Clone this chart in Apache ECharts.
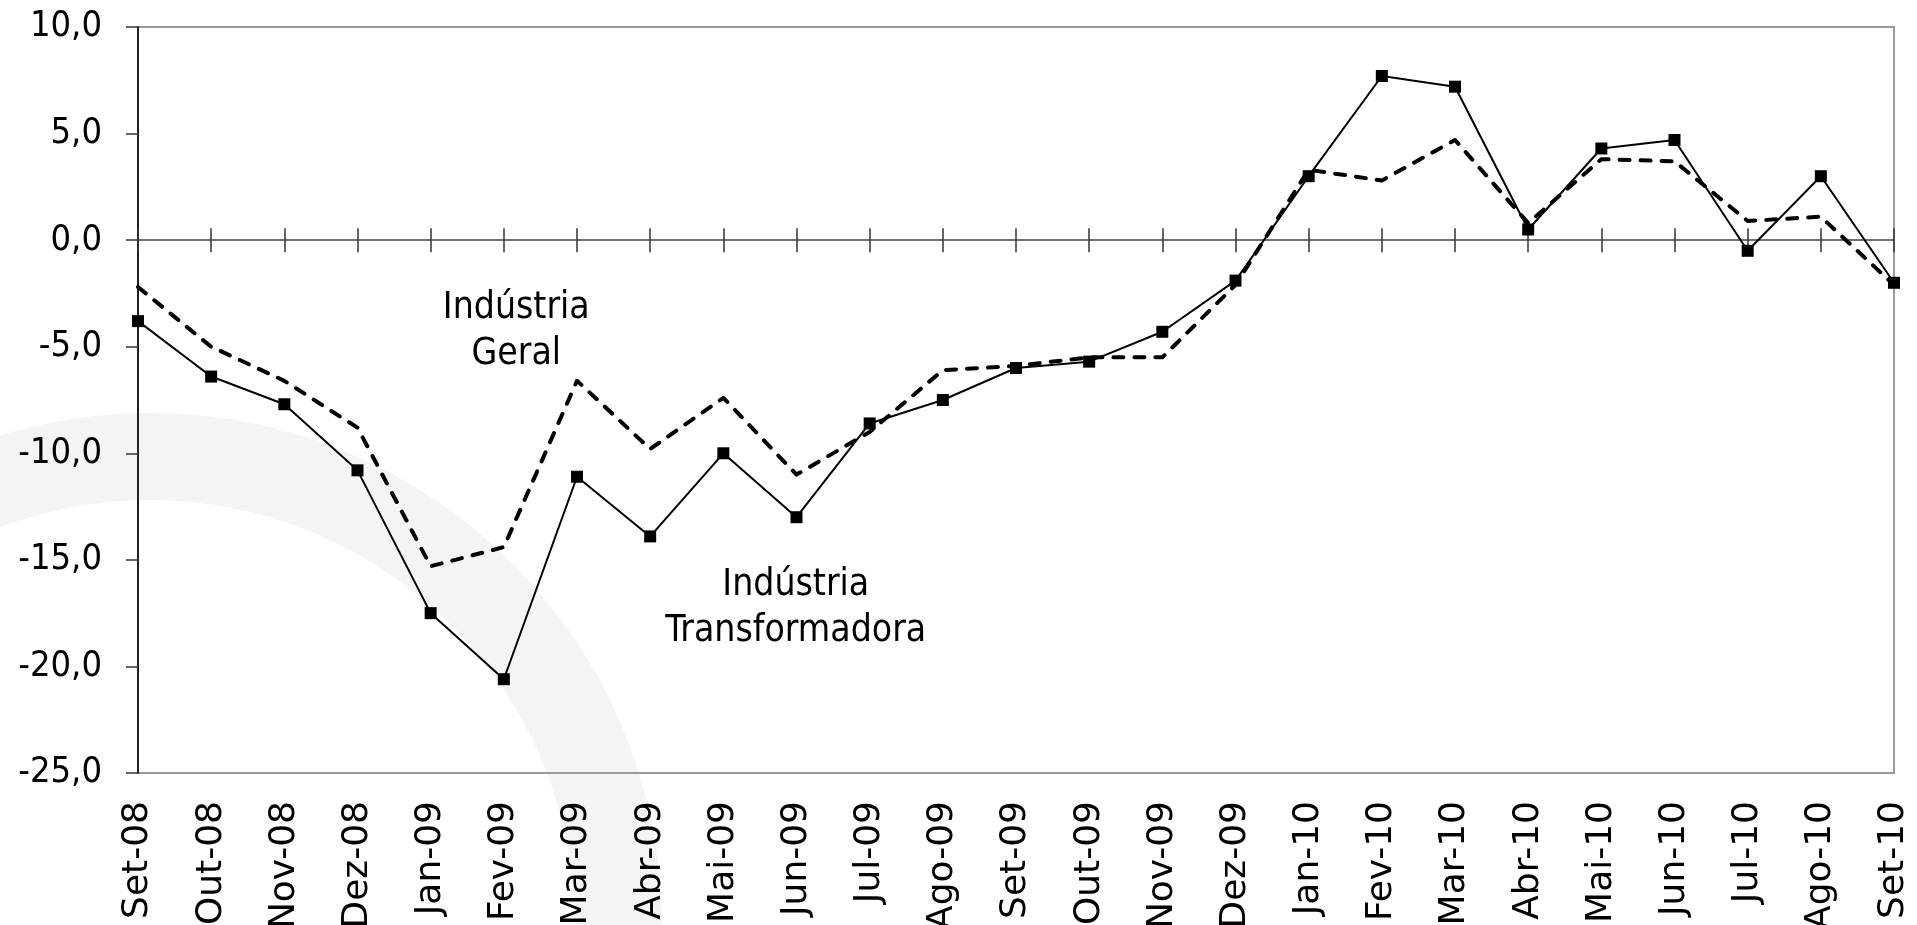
<!DOCTYPE html>
<html>
<head>
<meta charset="utf-8">
<script src="https://cdn.jsdelivr.net/npm/echarts@6/dist/echarts.min.js"></script>
<style>
html,body{margin:0;padding:0;background:#ffffff;}
#c{width:1917px;height:925px;}
</style>
</head>
<body>
<div id="c"></div>
<script>
const categories = ['Set-08','Out-08','Nov-08','Dez-08','Jan-09','Fev-09','Mar-09','Abr-09','Mai-09','Jun-09','Jul-09','Ago-09','Set-09','Out-09','Nov-09','Dez-09','Jan-10','Fev-10','Mar-10','Abr-10','Mai-10','Jun-10','Jul-10','Ago-10','Set-10'];
const industriaTransformadora = [-3.8,-6.4,-7.7,-10.8,-17.5,-20.6,-11.1,-13.9,-10.0,-13.0,-8.6,-7.5,-6.0,-5.7,-4.3,-1.9,3.0,7.7,7.2,0.5,4.3,4.7,-0.5,3.0,-2.0];
const industriaGeral = [-2.2,-5.0,-6.6,-8.8,-15.3,-14.4,-6.6,-9.8,-7.4,-11.0,-9.0,-6.1,-5.9,-5.5,-5.5,-2.1,3.3,2.8,4.7,0.8,3.8,3.7,0.9,1.1,-2.1];
const yMin = -25, yMax = 10, yStep = 5;
const labelGeral = 'Indústria\nGeral';
const labelTransf = 'Indústria\nTransformadora';

const condensed = "'DejaVu Sans Condensed','DejaVu Sans',sans-serif";
const regular = "'DejaVu Sans',Verdana,sans-serif";

const chart = echarts.init(document.getElementById('c'), null, {renderer: 'canvas'});

const watermark = {id: 'wm', type: 'ring', z: -10, silent: true,
  shape: {cx: 150, cy: 925, r: 512, r0: 425},
  style: {fill: '#f4f4f4'}};

const option = {
  animation: false,
  backgroundColor: '#ffffff',
  grid: {left: 138, right: 23, top: 27, bottom: 152, containLabel: false, outerBoundsMode: 'none',
         show: true, borderColor: '#9a9a9a', borderWidth: 2, backgroundColor: 'transparent'},
  graphic: [watermark],
  xAxis: [
    {type: 'category', data: categories, boundaryGap: false, position: 'bottom',
     axisLine: {show: false, onZero: false}, axisTick: {show: false},
     axisLabel: {rotate: 90, interval: 0, margin: 28, fontSize: 36, fontFamily: regular, color: '#000'}},
    {type: 'category', data: categories, boundaryGap: false, position: 'bottom',
     axisLine: {show: true, onZero: true, lineStyle: {color: '#444', width: 1.5}},
     axisTick: {show: true, interval: 0, length: 12, lineStyle: {color: '#333', width: 1.5}},
     axisLabel: {show: false}},
    {type: 'category', data: categories, boundaryGap: false, position: 'top',
     axisLine: {show: false, onZero: true, onZeroAxisIndex: 1},
     axisTick: {show: true, interval: 0, length: 12, lineStyle: {color: '#333', width: 1.5}},
     axisLabel: {show: false}}
  ],
  yAxis: [
    {type: 'value', min: yMin, max: yMax, interval: yStep, position: 'left',
     axisLine: {show: true, lineStyle: {color: '#222', width: 2}},
     axisTick: {show: true, length: 12, lineStyle: {color: '#333', width: 1.5}},
     splitLine: {show: false},
     axisLabel: {margin: 36, fontSize: 36, fontFamily: condensed, color: '#000',
       formatter: v => v.toFixed(1).replace('.', ',')}},
    {type: 'value', min: yMin, max: yMax, interval: yStep, position: 'right', show: false,
     splitLine: {show: false}}
  ],
  series: [
    {name: 'Indústria Geral', type: 'line', data: industriaGeral, xAxisIndex: 0, yAxisIndex: 0,
     showSymbol: false, symbol: 'none', z: 3,
     lineStyle: {color: '#000', width: 4, type: [10, 11], cap: 'round', join: 'round'}},
    {name: 'Indústria Transformadora', type: 'line', data: industriaTransformadora, xAxisIndex: 0, yAxisIndex: 0,
     symbol: 'rect', symbolSize: 12, z: 4,
     itemStyle: {color: '#000'},
     lineStyle: {color: '#000', width: 2}}
  ]
};
chart.setOption(option);

// anchor annotations to data coordinates (category index + fraction, value)
function anchor(idx, frac, val) {
  const a = chart.convertToPixel({xAxisIndex: 0, yAxisIndex: 0}, [idx, val]);
  const b = chart.convertToPixel({xAxisIndex: 0, yAxisIndex: 0}, [idx + 1, val]);
  return [a[0] + (b[0] - a[0]) * frac, a[1]];
}
const pG = anchor(5, 0.17, -4.26);
const pT = anchor(8, 0.99, -17.29);
const textFont = "37px " + condensed;
chart.setOption({
  graphic: [
    watermark,
    {id: 'tg', type: 'text', x: pG[0], y: pG[1], z: 10,
     style: {text: labelGeral, align: 'center', verticalAlign: 'middle', font: textFont, lineHeight: 46, fill: '#000'}},
    {id: 'tt', type: 'text', x: pT[0], y: pT[1], z: 10,
     style: {text: labelTransf, align: 'center', verticalAlign: 'middle', font: textFont, lineHeight: 46, fill: '#000'}}
  ]
});
</script>
</body>
</html>
